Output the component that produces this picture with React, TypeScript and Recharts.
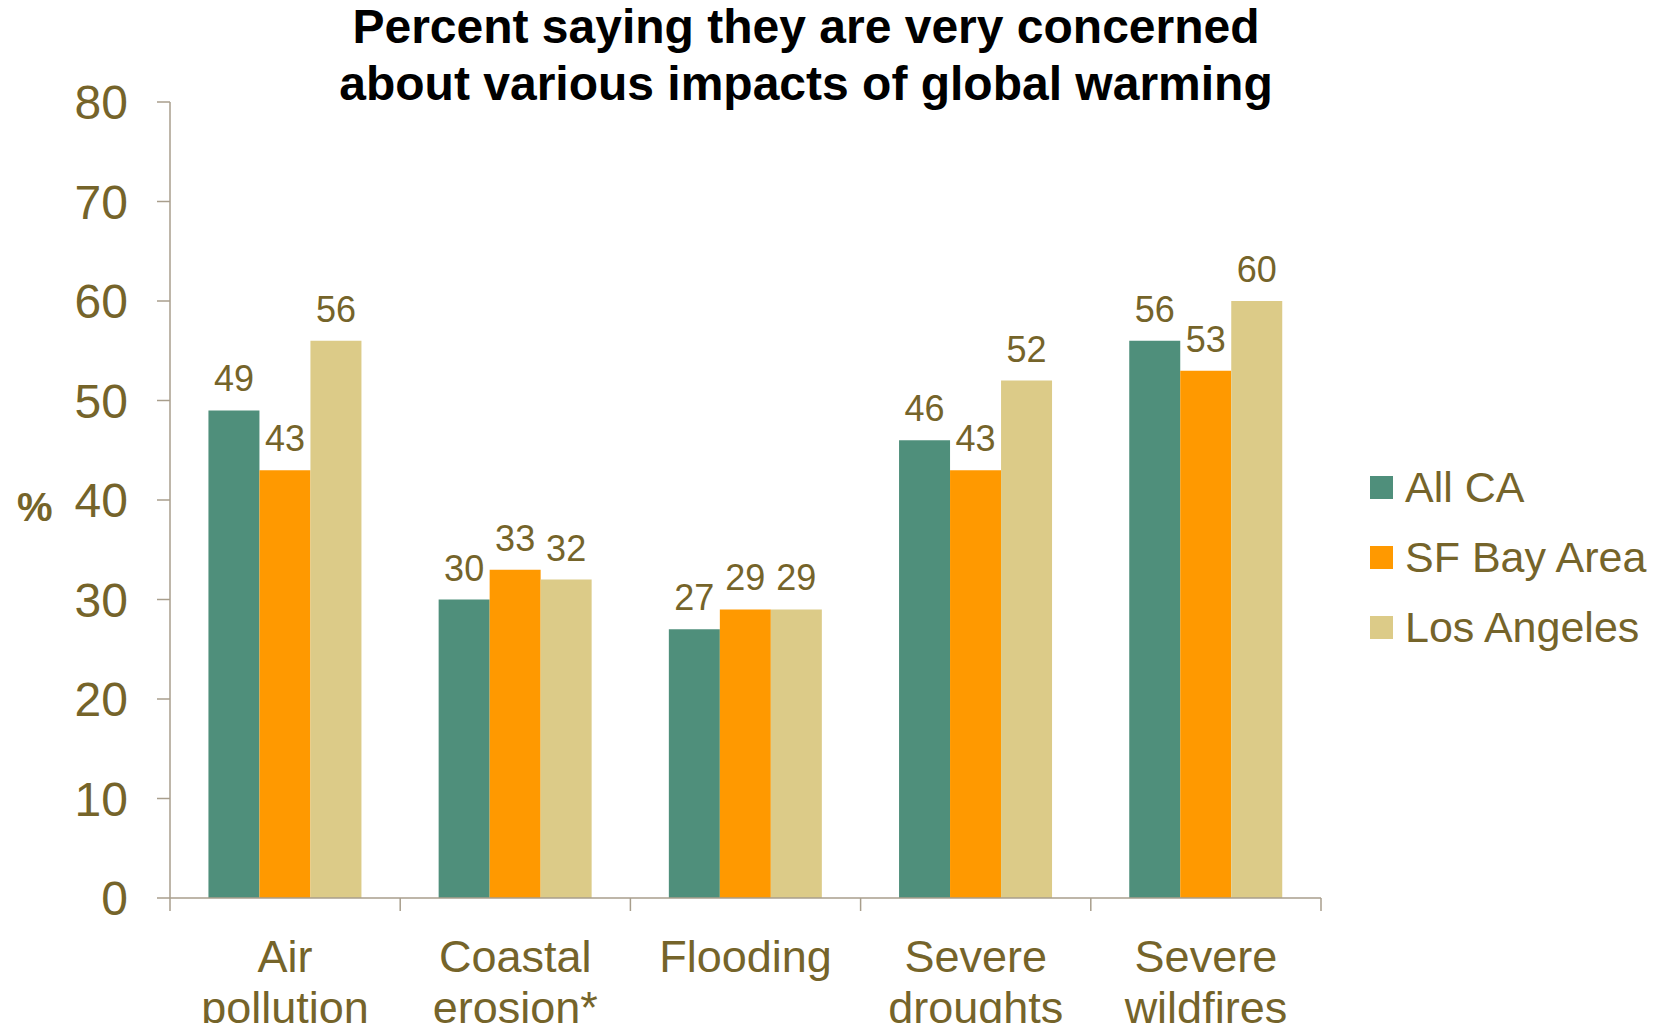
import { Bar, BarChart, LabelList, XAxis, YAxis } from 'recharts'

const categories = [
  ['Air', 'pollution'],
  ['Coastal', 'erosion*'],
  ['Flooding'],
  ['Severe', 'droughts'],
  ['Severe', 'wildfires'],
]

const allCA = [49, 30, 27, 46, 56]
const sfBayArea = [43, 33, 29, 43, 53]
const losAngeles = [56, 32, 29, 52, 60]

const yTicks = [0, 10, 20, 30, 40, 50, 60, 70, 80]

const series = [
  { key: 'allCA', name: 'All CA', color: '#4f8f7b' },
  { key: 'sfBayArea', name: 'SF Bay Area', color: '#ff9900' },
  { key: 'losAngeles', name: 'Los Angeles', color: '#dccb88' },
]

const data = categories.map((lines, i) => ({
  name: lines.join('\n'),
  allCA: allCA[i],
  sfBayArea: sfBayArea[i],
  losAngeles: losAngeles[i],
}))

const TEXT = '#75642a'
const AXIS = '#a89e8c'
const FONT = '"Liberation Sans", Arial, sans-serif'

// two-line category label, with tick marks on the band edges instead of the centre
function CategoryTick(props: any) {
  const { x, y, payload, index, visibleTicksCount } = props
  const half = payload.offset ?? 0
  const lines = String(payload.value).split('\n')
  const isLast = index === visibleTicksCount - 1
  return (
    <g>
      <line x1={x - half} x2={x - half} y1={y} y2={y + 13} stroke={AXIS} strokeWidth={1.5} />
      {isLast && <line x1={x + half} x2={x + half} y1={y} y2={y + 13} stroke={AXIS} strokeWidth={1.5} />}
      <text x={x} y={y} textAnchor="middle" fill={TEXT} fontSize={45} fontFamily={FONT}>
        {lines.map((line, i) => (
          <tspan key={i} x={x} dy={i === 0 ? 74 : 51}>
            {line}
          </tspan>
        ))}
      </text>
    </g>
  )
}

export default function App() {
  return (
    <div style={{ position: 'relative', width: 1666, height: 1031, margin: -8, background: '#fff' }}>
      <div
        style={{
          position: 'absolute',
          left: 256,
          width: 1100,
          top: -2,
          textAlign: 'center',
          whiteSpace: 'nowrap',
          fontFamily: FONT,
          fontWeight: 'bold',
          fontSize: 48,
          lineHeight: '57px',
          color: '#000',
        }}
      >
        Percent saying they are very concerned
        <br />
        about various impacts of global warming
      </div>
      <BarChart
        width={1666}
        height={1031}
        data={data}
        barCategoryGap="16.7%"
        barGap={0}
        margin={{ top: 102, right: 345, left: 17, bottom: 0 }}
      >
        <XAxis
          dataKey="name"
          interval={0}
          tickSize={0}
          tickMargin={0}
          tickLine={false}
          height={133}
          axisLine={{ stroke: AXIS, strokeWidth: 1.5 }}
          tick={<CategoryTick />}
        />
        <YAxis
          width={153}
          domain={[0, 80]}
          ticks={yTicks}
          interval={0}
          tickSize={13}
          tickMargin={29}
          stroke={AXIS}
          strokeWidth={1.5}
          tick={{ fill: TEXT, fontSize: 48, fontFamily: FONT }}
          label={{
            value: '%',
            position: 'insideLeft',
            offset: 0,
            dy: 7,
            fill: TEXT,
            fontSize: 40,
            fontWeight: 'bold',
            fontFamily: FONT,
          }}
        />
        {series.map((s) => (
          <Bar key={s.key} dataKey={s.key} name={s.name} fill={s.color} isAnimationActive={false}>
            <LabelList
              dataKey={s.key}
              position="top"
              offset={19}
              fill={TEXT}
              fontSize={36}
              fontFamily={FONT}
            />
          </Bar>
        ))}
      </BarChart>
      <div style={{ position: 'absolute', left: 1370, top: 452, fontFamily: FONT }}>
        {series.map((s) => (
          <div key={s.key} style={{ display: 'flex', alignItems: 'center', height: 70 }}>
            <span style={{ width: 23, height: 23, background: s.color, marginRight: 12 }} />
            <span style={{ color: TEXT, fontSize: 43 }}>{s.name}</span>
          </div>
        ))}
      </div>
    </div>
  )
}
